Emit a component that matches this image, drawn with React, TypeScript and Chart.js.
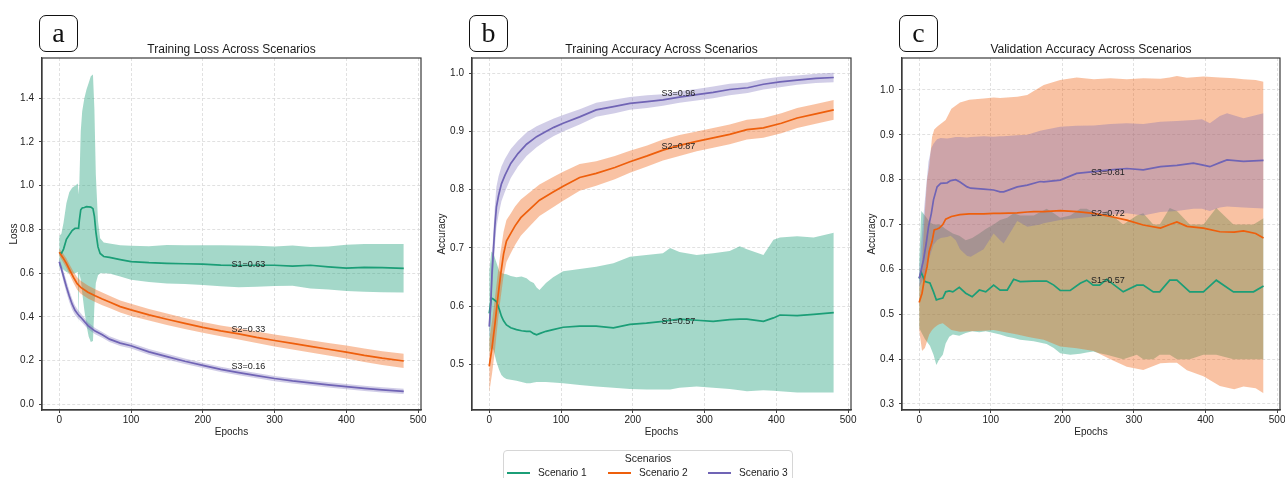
import React, { useEffect, useRef } from "react";
import { Chart, registerables } from "chart.js";

Chart.register(...registerables);

const FONT = "'Liberation Sans', Arial, Helvetica, sans-serif";
const SERIF = "'Liberation Serif', 'Times New Roman', serif";

const scenarioLabels = ["Scenario 1", "Scenario 2", "Scenario 3"];
const lineColors = ["#1b9e77", "#ee5f0c", "#7064b5"];
const bandColors = ["rgba(27,158,119,0.4)", "rgba(238,95,12,0.38)", "rgba(112,100,181,0.32)"];

const epochTicks = [0, 100, 200, 300, 400, 500];
const noteEpoch = 240;

// ---------- Panel a: Training Loss ----------
const lossTicks = [0.0, 0.2, 0.4, 0.6, 0.8, 1.0, 1.2, 1.4];
const lossNotes = [0.63, 0.33, 0.16];

const lossS1Epochs = [0, 3, 6, 10, 14, 18, 22, 26, 27, 28, 30, 32, 35, 38, 41, 44, 47, 49, 51, 54, 57, 62, 70, 85, 100, 125, 150, 175, 200, 225, 250, 275, 300, 325, 350, 375, 400, 425, 450, 480];
const lossS1Mean = [0.694, 0.69, 0.71, 0.755, 0.775, 0.795, 0.805, 0.806, 0.806, 0.84, 0.89, 0.898, 0.9, 0.904, 0.903, 0.902, 0.895, 0.86, 0.79, 0.72, 0.69, 0.676, 0.672, 0.662, 0.653, 0.648, 0.645, 0.643, 0.641, 0.637, 0.635, 0.636, 0.636, 0.632, 0.636, 0.629, 0.623, 0.626, 0.625, 0.622];
const lossS1Upper = [0.77, 0.78, 0.83, 0.92, 0.97, 0.99, 1.0, 1.01, 0.96, 1.01, 1.25, 1.34, 1.4, 1.44, 1.47, 1.5, 1.508, 1.35, 1.05, 0.84, 0.76, 0.74, 0.736, 0.727, 0.725, 0.723, 0.729, 0.728, 0.728, 0.727, 0.726, 0.725, 0.722, 0.726, 0.72, 0.722, 0.73, 0.733, 0.733, 0.733];
const lossS1Lower = [0.625, 0.625, 0.615, 0.605, 0.6, 0.6, 0.6, 0.605, 0.37, 0.6, 0.57, 0.51, 0.43, 0.36, 0.31, 0.285, 0.29, 0.45, 0.555, 0.59, 0.6, 0.6, 0.598, 0.585, 0.57, 0.56, 0.553, 0.55, 0.546, 0.54, 0.535, 0.538, 0.541, 0.542, 0.53, 0.525, 0.518, 0.515, 0.513, 0.512];

const lossS2Epochs = [0, 5, 10, 15, 20, 25, 30, 40, 50, 60, 70, 85, 100, 125, 150, 175, 200, 225, 250, 275, 300, 325, 350, 375, 400, 425, 450, 480];
const lossS2Mean = [0.695, 0.672, 0.645, 0.612, 0.58, 0.552, 0.535, 0.513, 0.497, 0.482, 0.468, 0.447, 0.432, 0.409, 0.389, 0.37, 0.352, 0.336, 0.322, 0.306, 0.292, 0.279, 0.265, 0.252, 0.239, 0.224, 0.211, 0.198];
const lossS2Upper = [0.712, 0.692, 0.667, 0.636, 0.606, 0.581, 0.565, 0.543, 0.526, 0.511, 0.497, 0.475, 0.46, 0.436, 0.415, 0.395, 0.377, 0.361, 0.348, 0.333, 0.319, 0.307, 0.293, 0.281, 0.269, 0.255, 0.243, 0.231];
const lossS2Lower = [0.68, 0.652, 0.623, 0.589, 0.555, 0.524, 0.506, 0.484, 0.468, 0.453, 0.44, 0.42, 0.404, 0.383, 0.363, 0.345, 0.327, 0.311, 0.297, 0.28, 0.265, 0.251, 0.237, 0.223, 0.209, 0.194, 0.18, 0.166];

const lossS3Epochs = [0, 3, 6, 10, 14, 18, 22, 26, 30, 40, 50, 60, 70, 85, 100, 125, 150, 175, 200, 225, 250, 275, 300, 325, 350, 375, 400, 425, 450, 480];
const lossS3Mean = [0.652, 0.62, 0.585, 0.538, 0.495, 0.458, 0.43, 0.412, 0.398, 0.36, 0.335, 0.318, 0.298, 0.28, 0.268, 0.24, 0.218, 0.197, 0.178, 0.16, 0.145, 0.131, 0.118, 0.107, 0.098, 0.089, 0.081, 0.073, 0.066, 0.059];
const lossS3Upper = [0.667, 0.64, 0.61, 0.565, 0.522, 0.483, 0.452, 0.432, 0.416, 0.375, 0.349, 0.331, 0.311, 0.293, 0.281, 0.253, 0.231, 0.21, 0.19, 0.172, 0.157, 0.143, 0.13, 0.119, 0.11, 0.101, 0.093, 0.085, 0.078, 0.071];
const lossS3Lower = [0.637, 0.6, 0.56, 0.511, 0.468, 0.433, 0.408, 0.392, 0.38, 0.345, 0.321, 0.305, 0.285, 0.267, 0.255, 0.227, 0.205, 0.184, 0.166, 0.148, 0.133, 0.119, 0.106, 0.095, 0.086, 0.077, 0.069, 0.061, 0.054, 0.047];

// ---------- Panel b: Training Accuracy ----------
const trainTicks = [0.5, 0.6, 0.7, 0.8, 0.9, 1.0];
const trainNotes = [0.57, 0.87, 0.96];

const trainS1Epochs = [0, 3, 6, 10, 14, 17, 20, 24, 30, 38, 45, 52, 57, 62, 66, 70, 79, 89, 103, 126, 149, 173, 196, 219, 242, 252, 265, 289, 312, 335, 349, 359, 382, 396, 405, 429, 452, 480];
const trainS1Mean = [0.588, 0.614, 0.612, 0.608, 0.595, 0.583, 0.575, 0.568, 0.563, 0.56, 0.558, 0.557, 0.557, 0.553, 0.551, 0.553, 0.557, 0.56, 0.564, 0.566, 0.566, 0.563, 0.569, 0.571, 0.574, 0.576, 0.578, 0.576, 0.574, 0.577, 0.578, 0.578, 0.574, 0.58, 0.585, 0.584, 0.586, 0.589];
const trainS1Upper = [0.66, 0.694, 0.69, 0.675, 0.66, 0.657, 0.656, 0.655, 0.652, 0.65, 0.651, 0.648, 0.643, 0.64, 0.632, 0.628, 0.64, 0.65, 0.66, 0.664, 0.668, 0.674, 0.685, 0.688, 0.691, 0.7, 0.693, 0.688, 0.691, 0.695, 0.703, 0.698, 0.688, 0.714, 0.718, 0.72, 0.718, 0.726];
const trainS1Lower = [0.52, 0.53, 0.525, 0.505, 0.49, 0.482, 0.478, 0.475, 0.474, 0.472, 0.47, 0.468, 0.468, 0.469, 0.47, 0.47, 0.47, 0.469, 0.468, 0.465, 0.4625, 0.46, 0.458, 0.457, 0.457, 0.457, 0.46, 0.4625, 0.46, 0.458, 0.456, 0.454, 0.456, 0.455, 0.454, 0.452, 0.452, 0.452];

const trainS2Epochs = [0, 4, 8, 12, 16, 20, 24, 30, 36, 44, 57, 70, 89, 103, 126, 149, 175, 196, 220, 242, 265, 289, 312, 335, 359, 382, 407, 429, 455, 480];
const trainS2Mean = [0.497, 0.53, 0.57, 0.615, 0.655, 0.69, 0.712, 0.725, 0.738, 0.752, 0.767, 0.782, 0.796, 0.806, 0.821, 0.828, 0.838, 0.848, 0.858, 0.868, 0.876, 0.883, 0.889, 0.895, 0.903, 0.906, 0.914, 0.923, 0.93, 0.937];
const trainS2Upper = [0.542, 0.575, 0.615, 0.657, 0.695, 0.728, 0.748, 0.759, 0.771, 0.783, 0.796, 0.809, 0.822, 0.831, 0.844, 0.849, 0.858, 0.867, 0.876, 0.886, 0.894, 0.9, 0.906, 0.912, 0.92, 0.923, 0.931, 0.94, 0.947, 0.954];
const trainS2Lower = [0.452, 0.485, 0.525, 0.573, 0.615, 0.652, 0.676, 0.691, 0.705, 0.721, 0.738, 0.755, 0.77, 0.781, 0.798, 0.807, 0.818, 0.829, 0.84, 0.85, 0.858, 0.866, 0.872, 0.878, 0.886, 0.889, 0.897, 0.906, 0.913, 0.92];

const trainS3Epochs = [0, 2, 4, 6, 8, 10, 13, 17, 22, 30, 40, 52, 66, 79, 90, 103, 126, 149, 175, 196, 220, 242, 265, 289, 312, 335, 360, 382, 405, 429, 455, 480];
const trainS3Mean = [0.565, 0.6, 0.66, 0.7, 0.74, 0.77, 0.79, 0.81, 0.825, 0.845, 0.862, 0.878, 0.891, 0.9, 0.907, 0.914, 0.925, 0.937, 0.943, 0.948, 0.951, 0.954, 0.959, 0.963, 0.967, 0.972, 0.975, 0.981, 0.985, 0.988, 0.991, 0.9925];
const trainS3Upper = [0.585, 0.625, 0.69, 0.733, 0.775, 0.805, 0.823, 0.84, 0.853, 0.87, 0.884, 0.898, 0.909, 0.916, 0.922, 0.928, 0.938, 0.949, 0.955, 0.959, 0.962, 0.964, 0.969, 0.973, 0.977, 0.982, 0.984, 0.99, 0.994, 0.996, 0.999, 1.0005];
const trainS3Lower = [0.545, 0.575, 0.63, 0.667, 0.705, 0.735, 0.757, 0.78, 0.797, 0.82, 0.84, 0.858, 0.873, 0.884, 0.892, 0.9, 0.912, 0.925, 0.931, 0.937, 0.94, 0.944, 0.949, 0.953, 0.957, 0.962, 0.966, 0.972, 0.976, 0.98, 0.983, 0.9845];

// ---------- Panel c: Validation Accuracy ----------
const valTicks = [0.3, 0.4, 0.5, 0.6, 0.7, 0.8, 0.9, 1.0];
const valNotes = [0.57, 0.72, 0.81];

const valS1Epochs = [0, 3, 8, 15, 20, 24, 28, 33, 37, 42, 47, 56, 65, 74, 84, 93, 104, 113, 123, 132, 141, 160, 178, 188, 197, 211, 225, 234, 243, 252, 262, 285, 304, 313, 327, 336, 350, 360, 378, 397, 415, 439, 467, 481];
const valS1Mean = [0.58, 0.593, 0.573, 0.57, 0.55, 0.532, 0.534, 0.536, 0.55, 0.552, 0.55, 0.56, 0.547, 0.539, 0.554, 0.55, 0.565, 0.554, 0.554, 0.578, 0.573, 0.574, 0.574, 0.565, 0.553, 0.553, 0.569, 0.576, 0.565, 0.565, 0.578, 0.55, 0.565, 0.565, 0.55, 0.55, 0.576, 0.576, 0.55, 0.55, 0.576, 0.55, 0.55, 0.563];
const valS1Upper = [0.62, 0.73, 0.72, 0.705, 0.7, 0.7, 0.7, 0.695, 0.69, 0.685, 0.68, 0.675, 0.665, 0.67, 0.68, 0.69, 0.7, 0.71, 0.715, 0.725, 0.72, 0.72, 0.735, 0.725, 0.715, 0.72, 0.735, 0.735, 0.728, 0.72, 0.73, 0.7, 0.72, 0.725, 0.7, 0.7, 0.737, 0.73, 0.7, 0.7, 0.737, 0.7, 0.7, 0.714];
const valS1Lower = [0.47, 0.46, 0.445, 0.43, 0.41, 0.387, 0.4, 0.41, 0.435, 0.45, 0.455, 0.452, 0.458, 0.462, 0.46, 0.462, 0.458, 0.455, 0.45, 0.447, 0.443, 0.44, 0.434, 0.425, 0.413, 0.41, 0.412, 0.415, 0.417, 0.413, 0.41, 0.4, 0.41, 0.4, 0.4, 0.41, 0.41, 0.4, 0.4, 0.41, 0.41, 0.4, 0.4, 0.4];

const valS2Epochs = [0, 4, 8, 11, 14, 18, 21, 25, 28, 33, 37, 45, 57, 70, 90, 104, 113, 137, 151, 160, 174, 197, 220, 244, 267, 290, 313, 337, 350, 360, 374, 397, 420, 440, 453, 470, 481];
const valS2Mean = [0.526, 0.547, 0.585, 0.606, 0.64, 0.662, 0.688, 0.69, 0.692, 0.7, 0.712, 0.718, 0.722, 0.724, 0.724, 0.725, 0.725, 0.726, 0.728, 0.729, 0.729, 0.731, 0.729, 0.725, 0.718, 0.71, 0.699, 0.692, 0.7, 0.706, 0.696, 0.692, 0.684, 0.683, 0.686, 0.68, 0.67];
const valS2Upper = [0.56, 0.62, 0.73, 0.8, 0.83, 0.895, 0.912, 0.918, 0.922, 0.928, 0.933, 0.958, 0.972, 0.978, 0.981, 0.983, 0.982, 0.985, 0.989, 0.998, 1.011, 1.022, 1.028, 1.024, 1.026, 1.024, 1.026, 1.025, 1.028, 1.031, 1.027, 1.03, 1.028, 1.026, 1.024, 1.022, 1.0185];
const valS2Lower = [0.465, 0.418, 0.425, 0.44, 0.455, 0.465, 0.47, 0.475, 0.478, 0.48, 0.475, 0.465, 0.461, 0.462, 0.463, 0.465, 0.462, 0.455, 0.45, 0.447, 0.443, 0.428, 0.424, 0.418, 0.4, 0.383, 0.376, 0.391, 0.392, 0.392, 0.375, 0.362, 0.34, 0.333, 0.339, 0.335, 0.324];

const valS3Epochs = [0, 3, 6, 10, 13, 17, 20, 25, 30, 39, 44, 51, 57, 67, 72, 90, 104, 113, 118, 137, 151, 169, 174, 197, 220, 244, 267, 290, 313, 337, 360, 383, 395, 406, 420, 430, 453, 481];
const valS3Mean = [0.58, 0.6, 0.621, 0.66, 0.695, 0.725, 0.755, 0.784, 0.792, 0.793, 0.798, 0.8, 0.795, 0.784, 0.781, 0.779, 0.777, 0.773, 0.773, 0.784, 0.788, 0.796, 0.795, 0.799, 0.814, 0.818, 0.822, 0.825, 0.822, 0.829, 0.832, 0.837, 0.833, 0.829, 0.838, 0.844, 0.841, 0.843];
const valS3Upper = [0.6, 0.66, 0.72, 0.79, 0.84, 0.87, 0.88, 0.89, 0.893, 0.892, 0.893, 0.895, 0.895, 0.894, 0.895, 0.897, 0.896, 0.897, 0.897, 0.899, 0.9, 0.909, 0.911, 0.918, 0.92, 0.921, 0.924, 0.926, 0.924, 0.929, 0.931, 0.933, 0.935, 0.926, 0.942, 0.948, 0.937, 0.948];
const valS3Lower = [0.56, 0.57, 0.58, 0.6, 0.62, 0.64, 0.655, 0.665, 0.67, 0.672, 0.675, 0.665, 0.645, 0.63, 0.628, 0.645, 0.68, 0.665, 0.658, 0.708, 0.695, 0.7, 0.703, 0.71, 0.714, 0.718, 0.722, 0.725, 0.72, 0.728, 0.73, 0.735, 0.735, 0.73, 0.738, 0.74, 0.738, 0.736];

type Series = { epochs: number[]; mean: number[]; lower: number[]; upper: number[] };

type PanelCfg = {
  left: number;
  rightPad: number;
  title: string;
  yTitle: string;
  yTitlePad: number;
  yMin: number;
  yMax: number;
  yTicks: number[];
  notes: number[];
  series: Series[];
};

const panels: PanelCfg[] = [
  {
    left: 0, rightPad: 9, title: "Training Loss Across Scenarios", yTitle: "Loss", yTitlePad: 8.5,
    yMin: -0.026, yMax: 1.584, yTicks: lossTicks, notes: lossNotes,
    series: [
      { epochs: lossS1Epochs, mean: lossS1Mean, lower: lossS1Lower, upper: lossS1Upper },
      { epochs: lossS2Epochs, mean: lossS2Mean, lower: lossS2Lower, upper: lossS2Upper },
      { epochs: lossS3Epochs, mean: lossS3Mean, lower: lossS3Lower, upper: lossS3Upper },
    ],
  },
  {
    left: 430, rightPad: 9, title: "Training Accuracy Across Scenarios", yTitle: "Accuracy", yTitlePad: 6.5,
    yMin: 0.422, yMax: 1.026, yTicks: trainTicks, notes: trainNotes,
    series: [
      { epochs: trainS1Epochs, mean: trainS1Mean, lower: trainS1Lower, upper: trainS1Upper },
      { epochs: trainS2Epochs, mean: trainS2Mean, lower: trainS2Lower, upper: trainS2Upper },
      { epochs: trainS3Epochs, mean: trainS3Mean, lower: trainS3Lower, upper: trainS3Upper },
    ],
  },
  {
    left: 860, rightPad: 10, title: "Validation Accuracy Across Scenarios", yTitle: "Accuracy", yTitlePad: 6.5,
    yMin: 0.2866, yMax: 1.0713, yTicks: valTicks, notes: valNotes,
    series: [
      { epochs: valS1Epochs, mean: valS1Mean, lower: valS1Lower, upper: valS1Upper },
      { epochs: valS2Epochs, mean: valS2Mean, lower: valS2Lower, upper: valS2Upper },
      { epochs: valS3Epochs, mean: valS3Mean, lower: valS3Lower, upper: valS3Upper },
    ],
  },
];

const panelLetters = ["a", "b", "c"];
const letterLefts = [39, 469, 899];

function toPoints(xs: number[], ys: number[]) {
  return xs.map((x, i) => ({ x, y: ys[i] }));
}

function buildDatasets(series: Series[]) {
  const ds: any[] = [];
  for (const i of [2, 1, 0]) {
    const s = series[i];
    ds.push({
      label: "lo" + i,
      data: toPoints(s.epochs, s.lower),
      borderColor: "rgba(0,0,0,0)",
      borderWidth: 0,
      pointRadius: 0,
      fill: false,
    });
    ds.push({
      label: "hi" + i,
      data: toPoints(s.epochs, s.upper),
      borderColor: "rgba(0,0,0,0)",
      borderWidth: 0,
      pointRadius: 0,
      fill: "-1",
      backgroundColor: bandColors[i],
    });
  }
  for (const i of [2, 1, 0]) {
    const s = series[i];
    ds.push({
      label: scenarioLabels[i],
      data: toPoints(s.epochs, s.mean),
      borderColor: lineColors[i],
      borderWidth: 1.7,
      pointRadius: 0,
      tension: 0,
      fill: false,
    });
  }
  return ds;
}

function makeConfig(cfg: PanelCfg): any {
  const tickFont = { family: FONT, size: 10 };
  const framePlugin = {
    id: "frame" + cfg.left,
    afterDraw(chart: any) {
      const { ctx, chartArea } = chart;
      ctx.save();
      ctx.strokeStyle = "#3a3a3a";
      ctx.lineWidth = 1.2;
      ctx.setLineDash([]);
      ctx.strokeRect(chartArea.left, chartArea.top, chartArea.right - chartArea.left, chartArea.bottom - chartArea.top);
      // panel title, centred over the plot area
      ctx.font = `12px ${FONT}`;
      ctx.fillStyle = "#1a1a1a";
      ctx.textAlign = "center";
      ctx.textBaseline = "middle";
      ctx.fillText(cfg.title, (chartArea.left + chartArea.right) / 2, chartArea.top - 8);
      ctx.restore();
    },
  };
  const notesPlugin = {
    id: "notes" + cfg.left,
    afterDatasetsDraw(chart: any) {
      const { ctx } = chart;
      const xs = chart.scales.x;
      const ys = chart.scales.y;
      ctx.save();
      ctx.font = `9px ${FONT}`;
      ctx.fillStyle = "#222";
      ctx.textAlign = "left";
      ctx.textBaseline = "alphabetic";
      cfg.notes.forEach((v, i) => {
        ctx.fillText(`S${i + 1}=${v.toFixed(2)}`, xs.getPixelForValue(noteEpoch), ys.getPixelForValue(v));
      });
      ctx.restore();
    },
  };
  const grid = {
    color: "#d9d9d9",
    lineWidth: 0.8,
    drawTicks: true,
    tickLength: 3,
    tickColor: "#444",
    tickWidth: 1,
    tickBorderDash: [],
  };
  const border = { display: true, color: "#3a3a3a", width: 1.2, dash: [3, 2] };
  return {
    type: "line",
    data: { datasets: buildDatasets(cfg.series) },
    options: {
      animation: false,
      responsive: false,
      maintainAspectRatio: false,
      devicePixelRatio: 1,
      layout: { padding: { left: 0, right: cfg.rightPad, top: 58, bottom: 38 } },
      plugins: {
        legend: { display: false },
        tooltip: { enabled: false },
        filler: { drawTime: "beforeDatasetsDraw" },
        title: { display: false },
      },
      scales: {
        x: {
          type: "linear",
          min: -24,
          max: 504,
          afterBuildTicks: (s: any) => {
            s.ticks = epochTicks.map((v) => ({ value: v }));
          },
          afterFit: (s: any) => {
            s.height = 30;
            s.paddingLeft = 0;
            s.paddingRight = 0;
          },
          ticks: {
            font: tickFont,
            color: "#222",
            padding: 1,
            maxRotation: 0,
            autoSkip: false,
            callback: (v: any) => String(v),
          },
          grid,
          border,
          title: {
            display: true,
            text: "Epochs",
            color: "#222",
            font: tickFont,
            padding: { top: 0, bottom: 2 },
          },
        },
        y: {
          type: "linear",
          min: cfg.yMin,
          max: cfg.yMax,
          afterBuildTicks: (s: any) => {
            s.ticks = cfg.yTicks.map((v) => ({ value: v }));
          },
          afterFit: (s: any) => {
            s.width = 42;
            s.paddingTop = 0;
            s.paddingBottom = 0;
          },
          ticks: {
            font: tickFont,
            color: "#222",
            padding: 5,
            autoSkip: false,
            callback: (v: any) => Number(v).toFixed(1),
          },
          grid,
          border,
          title: {
            display: true,
            text: cfg.yTitle,
            color: "#222",
            font: tickFont,
            padding: { top: cfg.yTitlePad, bottom: 0 },
          },
        },
      },
    },
    plugins: [framePlugin, notesPlugin],
  };
}

function Panel({ cfg }: { cfg: PanelCfg }) {
  const ref = useRef<HTMLCanvasElement>(null);
  useEffect(() => {
    const chart = new Chart(ref.current as HTMLCanvasElement, makeConfig(cfg));
    return () => chart.destroy();
  }, [cfg]);
  return (
    <canvas
      ref={ref}
      width={430}
      height={478}
      style={{ position: "absolute", left: cfg.left, top: 0, width: 430, height: 478, display: "block" }}
    />
  );
}

export default function App() {
  return (
    <div
      style={{
        position: "absolute",
        left: 0,
        top: 0,
        width: 1285,
        height: 478,
        overflow: "hidden",
        background: "#ffffff",
      }}
    >
      {panels.map((p, i) => (
        <Panel key={i} cfg={p} />
      ))}
      {panelLetters.map((l, i) => (
        <div
          key={l}
          style={{
            position: "absolute",
            left: letterLefts[i],
            top: 15,
            width: 39,
            height: 37,
            boxSizing: "border-box",
            border: "1.5px solid #111",
            borderRadius: 7,
            background: "#fff",
            fontFamily: SERIF,
            fontSize: 28,
            lineHeight: "34px",
            textAlign: "center",
            color: "#111",
          }}
        >
          {l}
        </div>
      ))}
      <div
        style={{
          position: "absolute",
          left: 503,
          top: 450,
          width: 290,
          height: 40,
          boxSizing: "border-box",
          border: "1px solid #d6d6d6",
          borderRadius: 4,
          background: "#fff",
          fontFamily: FONT,
          fontSize: 10,
          color: "#222",
        }}
      >
        <div style={{ position: "absolute", top: 0, left: 0, right: 0, textAlign: "center", lineHeight: "14px", fontSize: 10.5 }}>
          Scenarios
        </div>
        {scenarioLabels.map((lab, i) => (
          <div
            key={lab}
            style={{
              position: "absolute",
              left: [3, 104, 204][i],
              top: 15,
              height: 14,
              display: "flex",
              alignItems: "center",
              whiteSpace: "nowrap",
            }}
          >
            <span style={{ display: "inline-block", width: 23, height: 0, borderTop: `2px solid ${lineColors[i]}`, marginRight: 8 }} />
            <span style={{ lineHeight: "14px", fontSize: 10.2 }}>{lab}</span>
          </div>
        ))}
      </div>
    </div>
  );
}
